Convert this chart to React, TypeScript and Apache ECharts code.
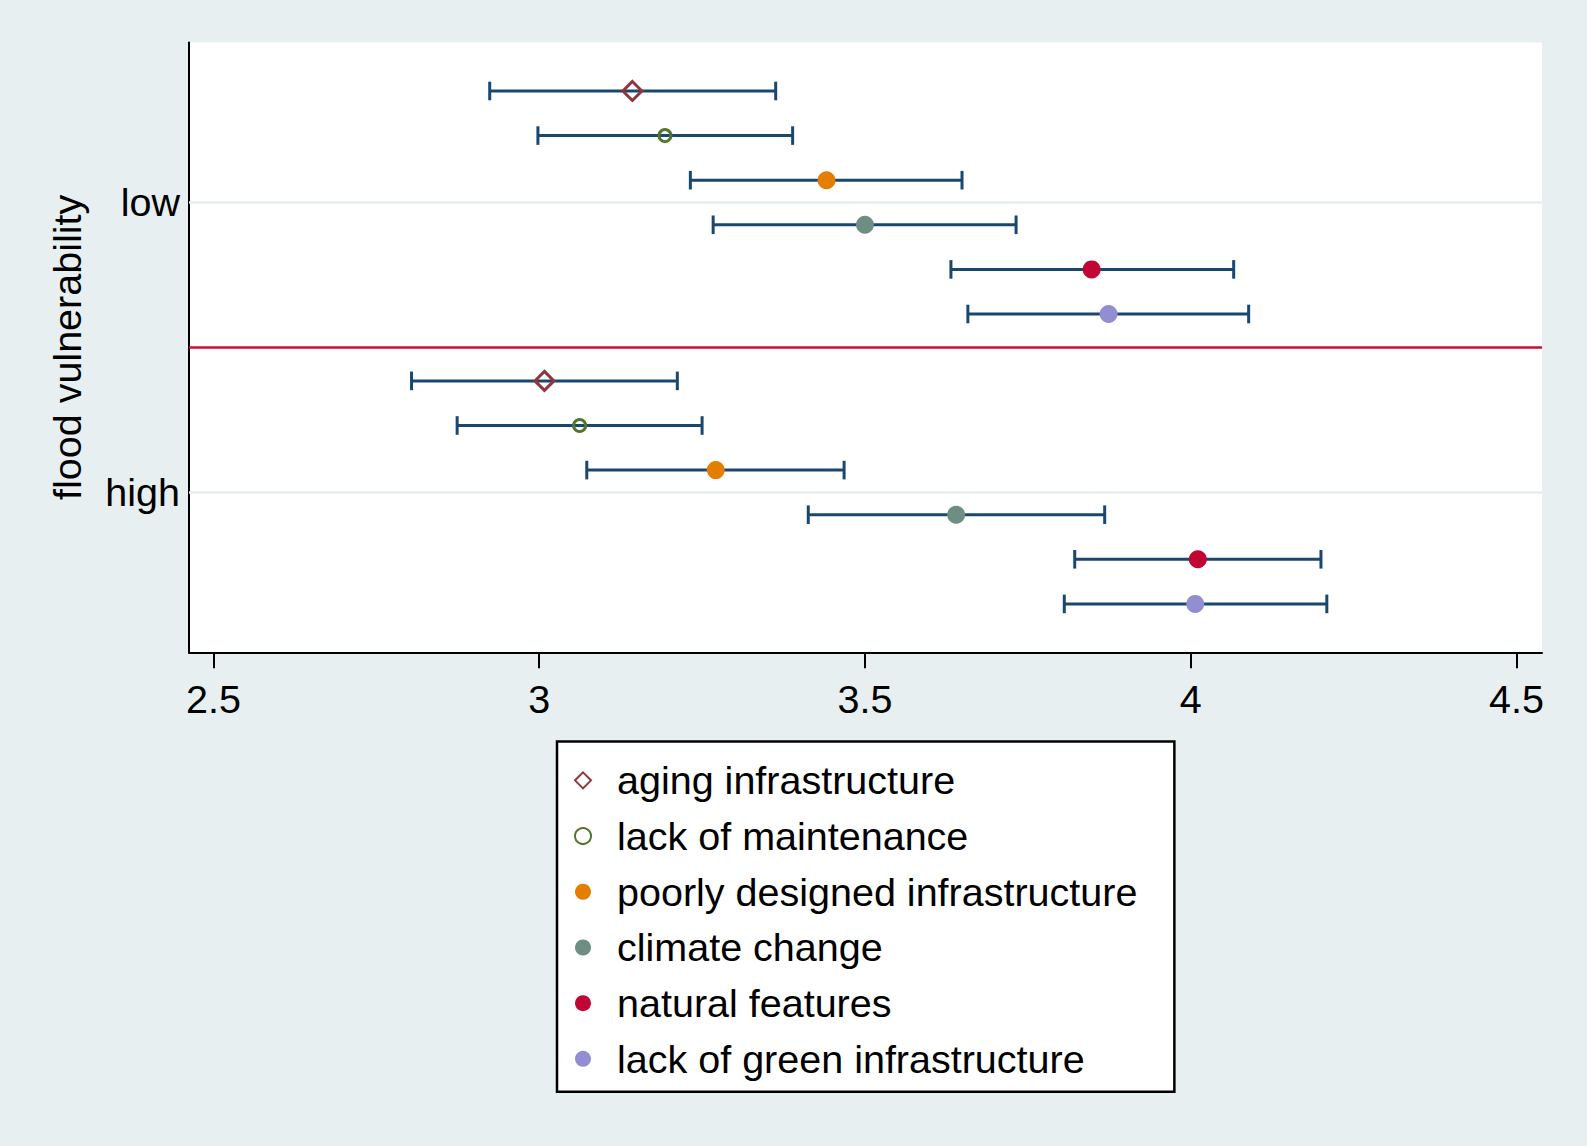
import React, { useEffect, useRef } from 'react';
import * as echarts from 'echarts';

// ---- data ----
const categories = [
  'aging infrastructure',
  'lack of maintenance',
  'poorly designed infrastructure',
  'climate change',
  'natural features',
  'lack of green infrastructure',
];
const groupLabels = ['low', 'high'];
const yTitle = 'flood vulnerability';

const lowMean = [3.143, 3.193, 3.441, 3.5, 3.848, 3.874];
const lowLower = [2.924, 2.998, 3.232, 3.267, 3.632, 3.658];
const lowUpper = [3.363, 3.389, 3.649, 3.732, 4.066, 4.089];

const highMean = [3.008, 3.062, 3.271, 3.64, 4.011, 4.007];
const highLower = [2.804, 2.874, 3.073, 3.413, 3.822, 3.806];
const highUpper = [3.212, 3.25, 3.468, 3.868, 4.2, 4.209];

const xTicks = [2.5, 3, 3.5, 4, 4.5];

// ---- styling ----
const colors = ['#90353b', '#55752f', '#e37e00', '#6e8e84', '#c10534', '#938dd2'];
const symbols = ['diamond', 'circle', 'circle', 'circle', 'circle', 'circle'];
const hollow = [true, true, false, false, false, false];
const sizes = [19, 12, 18, 18, 18, 18];
const FONT = 'Liberation Sans, Arial, sans-serif';
const FS = 39.5;

// layout of rows on the y value axis: group g, item k
const GROUP_STEP = 6.5;
const rowPos = (g: number, k: number) => g * GROUP_STEP + k;
const groupCenter = (g: number) => rowPos(g, (categories.length - 1) / 2);

export default function App() {
  const ref = useRef<HTMLDivElement>(null);

  useEffect(() => {
    if (!ref.current) return;
    const chart = echarts.init(ref.current, null, { renderer: 'svg' });

    const means = [lowMean, highMean];
    const lowers = [lowLower, highLower];
    const uppers = [lowUpper, highUpper];

    const errData: number[][] = [];
    for (let g = 0; g < 2; g++) {
      for (let k = 0; k < categories.length; k++) {
        errData.push([rowPos(g, k), lowers[g][k], uppers[g][k]]);
      }
    }

    const scatterSeries = categories.map((name, k) => ({
      type: 'scatter',
      name,
      z: 4,
      symbol: symbols[k],
      symbolSize: sizes[k],
      itemStyle: hollow[k]
        ? { color: 'rgba(255,255,255,0)', borderColor: colors[k], borderWidth: 3, opacity: 1 }
        : { color: colors[k], borderWidth: 0, opacity: 1 },
      emphasis: { disabled: true },
      data: [0, 1].map((g) => [means[g][k], rowPos(g, k)]),
    }));

    const divider = (groupCenter(0) + groupCenter(1)) / 2;

    const option: any = {
      animation: false,
      backgroundColor: '#e8eff1',
      textStyle: { fontFamily: FONT },
      grid: {
        left: 189,
        right: 45,
        top: 42.5,
        bottom: 493.7,
        show: true,
        backgroundColor: '#ffffff',
        borderWidth: 0,
      },
      xAxis: {
        type: 'value',
        min: 2.4624,
        max: 4.5393,
        axisLine: { show: true, onZero: false, lineStyle: { color: '#000', width: 2 } },
        axisTick: { show: true, customValues: xTicks, length: 16, lineStyle: { color: '#000', width: 2 } },
        axisLabel: {
          customValues: xTicks,
          margin: 27,
          fontSize: FS,
          color: '#000',
          fontFamily: FONT,
          formatter: (v: number) => String(v),
        },
        splitLine: { show: false },
      },
      yAxis: {
        type: 'value',
        inverse: true,
        min: -1.087,
        max: 12.585,
        name: yTitle,
        nameLocation: 'middle',
        nameRotate: 90,
        nameGap: 102,
        nameTextStyle: { fontSize: FS, color: '#000', fontFamily: FONT },
        axisLine: { show: true, onZero: false, lineStyle: { color: '#000', width: 2 } },
        axisTick: { show: false },
        axisLabel: {
          customValues: [groupCenter(0), groupCenter(1)],
          margin: 9,
          fontSize: FS,
          color: '#000',
          fontFamily: FONT,
          formatter: (v: number) => (Math.abs(v - groupCenter(0)) < 1e-6 ? groupLabels[0] : groupLabels[1]),
        },
        splitLine: { show: false },
      },
      legend: {
        orient: 'vertical',
        left: 557,
        top: 741.5,
        padding: [11, 37, 5, 17],
        itemGap: 0,
        itemWidth: 16,
        itemHeight: 16,
        backgroundColor: '#ffffff',
        borderColor: '#000',
        borderWidth: 2.5,
        borderRadius: 0,
        textStyle: { fontSize: FS, color: '#000', fontFamily: FONT, lineHeight: 55.7, padding: [0, 0, 0, 21] },
        data: categories,
      },
      series: [
        {
          type: 'custom',
          name: 'ci',
          z: 3,
          silent: true,
          encode: { x: [1, 2], y: 0 },
          renderItem: (params: any, api: any) => {
            const y = api.value(0);
            const p1 = api.coord([api.value(1), y]);
            const p2 = api.coord([api.value(2), y]);
            const h = 9.3;
            const style = { stroke: '#1a476f', lineWidth: 3, fill: null };
            return {
              type: 'group',
              children: [
                { type: 'line', shape: { x1: p1[0], y1: p1[1], x2: p2[0], y2: p2[1] }, style },
                { type: 'line', shape: { x1: p1[0], y1: p1[1] - h, x2: p1[0], y2: p1[1] + h }, style },
                { type: 'line', shape: { x1: p2[0], y1: p2[1] - h, x2: p2[0], y2: p2[1] + h }, style },
              ],
            };
          },
          data: errData,
          markLine: {
            silent: true,
            z: 1,
            symbol: ['none', 'none'],
            label: { show: false },
            animation: false,
            data: [
              { yAxis: groupCenter(0), lineStyle: { color: '#e4eef0', width: 2.5, type: 'solid' } },
              { yAxis: groupCenter(1), lineStyle: { color: '#e4eef0', width: 2.5, type: 'solid' } },
              { yAxis: divider, lineStyle: { color: '#c8102e', width: 2.5, type: 'solid' } },
            ],
          },
        },
        ...scatterSeries,
      ],
    };

    chart.setOption(option);
    return () => chart.dispose();
  }, []);

  return (
    <div
      ref={ref}
      style={{ position: 'fixed', left: 0, top: 0, width: 1587, height: 1146 }}
    />
  );
}
